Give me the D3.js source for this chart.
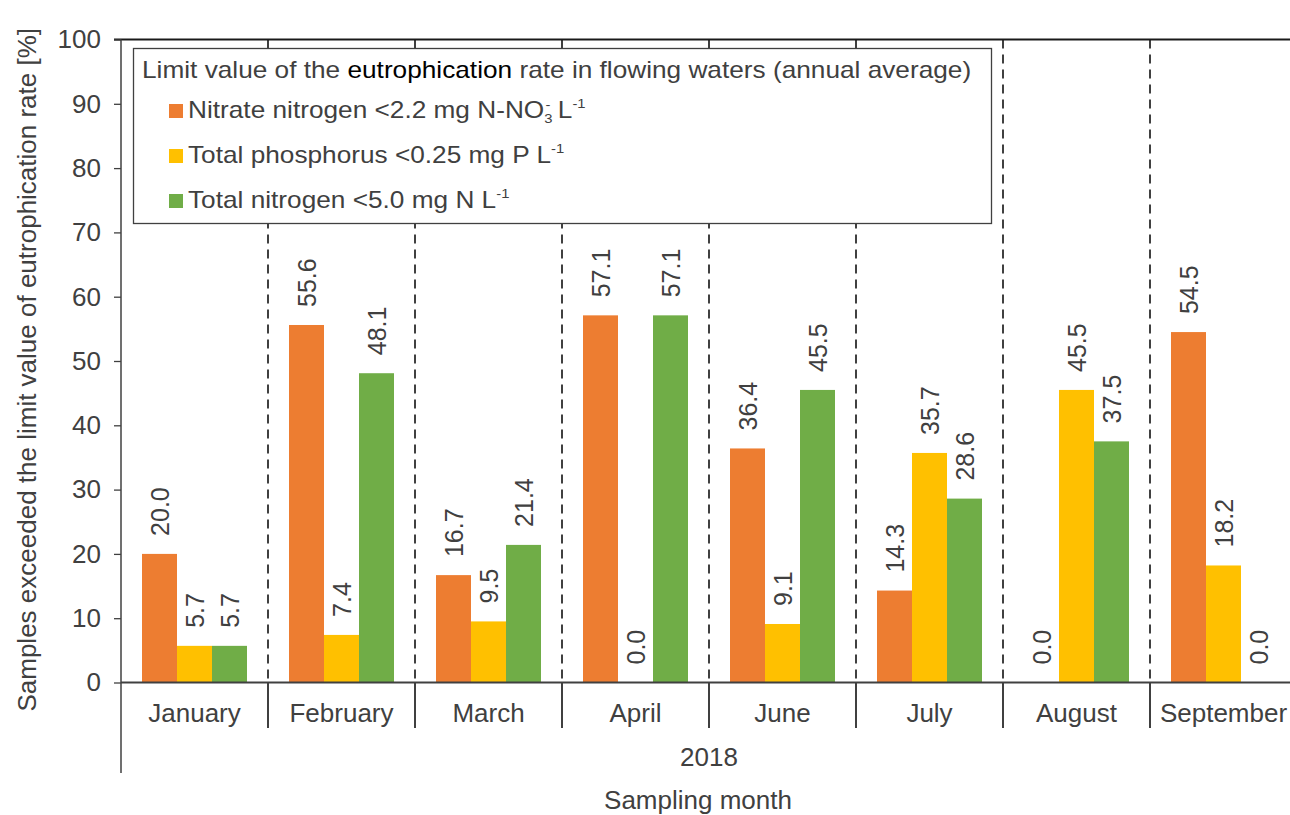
<!DOCTYPE html>
<html>
<head>
<meta charset="utf-8">
<script src="https://cdn.jsdelivr.net/npm/d3@7"></script>
<style>
  html, body { margin: 0; padding: 0; background: #fff; }
  svg { display: block; font-family: "Liberation Sans", Arial, sans-serif; }
</style>
</head>
<body>
<svg id="chart" width="1290" height="815"></svg>
<script>
// Monthly share of samples over the eutrophication limits, 2018
const months = ["January", "February", "March", "April", "June", "July", "August", "September"];
const nitrate = [20.0, 55.6, 16.7, 57.1, 36.4, 14.3, 0.0, 54.5];
const phosphorus = [5.7, 7.4, 9.5, 0.0, 9.1, 35.7, 45.5, 18.2];
const totalNitrogen = [5.7, 48.1, 21.4, 57.1, 45.5, 28.6, 37.5, 0.0];
const yTicks = [0, 10, 20, 30, 40, 50, 60, 70, 80, 90, 100];
const seriesKeys = ["nitrate", "phosphorus", "totalNitrogen"];
const seriesColors = ["#ED7D31", "#FFC000", "#70AD47"];

const rows = months.map((m, i) => ({
  month: m,
  nitrate: nitrate[i],
  phosphorus: phosphorus[i],
  totalNitrogen: totalNitrogen[i]
}));

const svg = d3.select("#chart");
const ink = "#404040";
const fontFamily = "'Liberation Sans', Arial, sans-serif";

const plotLeft = 121, plotRight = 1297, plotTop = 39.5, plotBottom = 682.5;

const x = d3.scaleBand().domain(months).range([plotLeft, plotRight]).paddingInner(0).paddingOuter(0);
const xs = d3.scaleBand().domain(seriesKeys).range([21, x.bandwidth() - 21]).padding(0);
const y = d3.scaleLinear().domain([0, 100]).range([plotBottom, plotTop]);

// dashed month separators
const boundaries = months.slice(1).map(m => x(m));
svg.append("g").selectAll("line").data(boundaries).join("line")
  .attr("x1", d => d).attr("x2", d => d)
  .attr("y1", plotTop).attr("y2", plotBottom)
  .attr("stroke", ink).attr("stroke-width", 2)
  .attr("stroke-dasharray", "9,6");

// bars
const groups = svg.append("g").selectAll("g").data(rows).join("g")
  .attr("transform", d => `translate(${x(d.month)},0)`);

groups.selectAll("rect")
  .data(d => seriesKeys.map((k, i) => ({ key: k, value: d[k], color: seriesColors[i] })))
  .join("rect")
  .attr("x", d => xs(d.key))
  .attr("width", xs.bandwidth())
  .attr("y", d => y(d.value))
  .attr("height", d => y(0) - y(d.value))
  .attr("fill", d => d.color);

// value labels, rotated above each bar
groups.selectAll("text")
  .data(d => seriesKeys.map(k => ({ key: k, value: d[k] })))
  .join("text")
  .attr("transform", d => `translate(${xs(d.key) + xs.bandwidth() / 2},${y(d.value) - 18}) rotate(-90)`)
  .attr("text-anchor", "start")
  .attr("dominant-baseline", "central")
  .attr("font-size", 25)
  .attr("fill", ink)
  .text(d => d.value.toFixed(1));

// top frame line
svg.append("line")
  .attr("x1", 114).attr("x2", 1290)
  .attr("y1", plotTop).attr("y2", plotTop)
  .attr("stroke", "#1a1a1a").attr("stroke-width", 2);

// y axis
const yAxis = svg.append("g")
  .attr("transform", `translate(${plotLeft},0)`)
  .call(d3.axisLeft(y).tickValues(yTicks).tickSize(7).tickPadding(13).tickFormat(d3.format("d")));
yAxis.select(".domain").remove();
yAxis.selectAll(".tick line").attr("stroke", ink).attr("stroke-width", 1.3);
yAxis.selectAll(".tick text").attr("font-size", 26).attr("fill", ink)
  .attr("font-family", fontFamily);

svg.append("line")
  .attr("x1", plotLeft).attr("x2", plotLeft)
  .attr("y1", plotTop).attr("y2", 773)
  .attr("stroke", ink).attr("stroke-width", 1.5);

// x axis baseline
svg.append("line")
  .attr("x1", plotLeft).attr("x2", 1290)
  .attr("y1", plotBottom).attr("y2", plotBottom)
  .attr("stroke", ink).attr("stroke-width", 2);

// category dividers below the axis
svg.append("g").selectAll("line").data(boundaries).join("line")
  .attr("x1", d => d).attr("x2", d => d)
  .attr("y1", plotBottom).attr("y2", 728)
  .attr("stroke", ink).attr("stroke-width", 2);

// month labels
svg.append("g").selectAll("text").data(months).join("text")
  .attr("x", d => x(d) + x.bandwidth() / 2)
  .attr("y", 722)
  .attr("text-anchor", "middle")
  .attr("font-size", 26)
  .attr("fill", ink)
  .text(d => d);

svg.append("text")
  .attr("x", (plotLeft + plotRight) / 2).attr("y", 766)
  .attr("text-anchor", "middle").attr("font-size", 26).attr("fill", ink)
  .text("2018");

svg.append("text")
  .attr("x", 698).attr("y", 809)
  .attr("text-anchor", "middle").attr("font-size", 26).attr("fill", ink)
  .text("Sampling month");

svg.append("text")
  .attr("transform", `translate(36,${(plotTop + 700) / 2}) rotate(-90)`)
  .attr("text-anchor", "middle").attr("font-size", 26).attr("fill", ink)
  .text("Samples exceeded the limit value of eutrophication rate [%]");

// legend (text is set slightly wide)
const legendStretch = 1.14;
const legend = svg.append("g");
legend.append("rect")
  .attr("x", 133.5).attr("y", 48.5).attr("width", 858).attr("height", 175)
  .attr("fill", "#fff").attr("stroke", ink).attr("stroke-width", 1.3);

const title = legend.append("text")
  .attr("transform", `translate(142,78) scale(${legendStretch},1)`)
  .attr("font-size", 23).attr("fill", ink);
title.append("tspan").text("Limit value of the ");
title.append("tspan").attr("fill", "#000").text("eutrophication");
title.append("tspan").text(" rate in flowing waters (annual average)");

const legendRows = [
  [{ t: "Nitrate nitrogen <2.2 mg N-NO" }, { t: "3", dy: 5 }, { t: "-", dy: -14, dx: -6 }, { t: " L", dy: 9 }, { t: "-1", dy: -10 }],
  [{ t: "Total phosphorus <0.25 mg P L" }, { t: "-1", dy: -10 }],
  [{ t: "Total nitrogen <5.0 mg N L" }, { t: "-1", dy: -10 }]
];

legendRows.forEach((parts, i) => {
  const by = 118 + i * 45;
  legend.append("rect")
    .attr("x", 169).attr("y", by - 14).attr("width", 14).attr("height", 14)
    .attr("fill", seriesColors[i]);
  const t = legend.append("text")
    .attr("transform", `translate(188,${by}) scale(${legendStretch},1)`)
    .attr("font-size", 23).attr("fill", ink);
  parts.forEach((p, j) => {
    const s = t.append("tspan").text(p.t);
    if (j > 0 && p.t !== " L") s.attr("font-size", 13);
    if (p.dy) s.attr("dy", p.dy);
    if (p.dx) s.attr("dx", p.dx);
  });
});
</script>
</body>
</html>
